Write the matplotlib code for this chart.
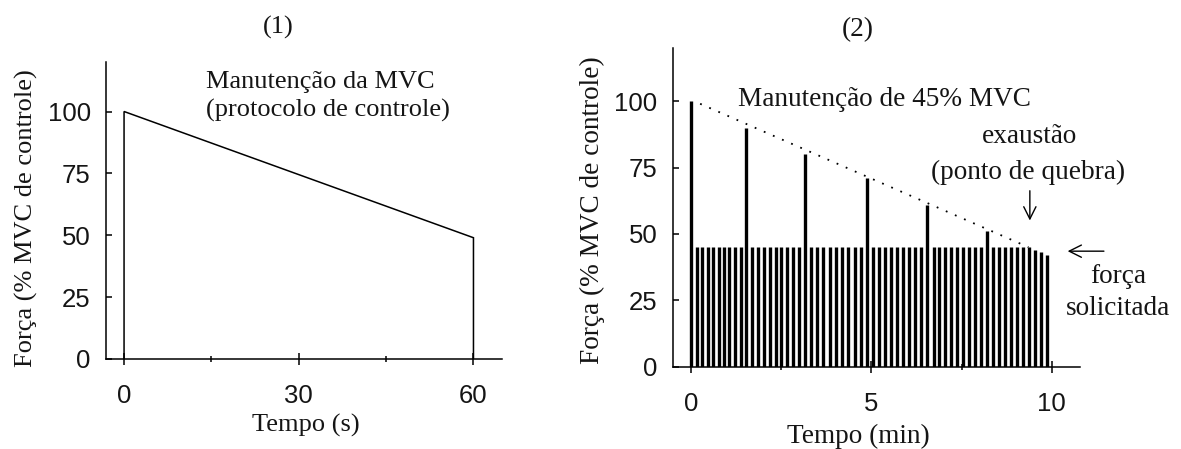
import matplotlib
matplotlib.use("Agg")
import matplotlib.pyplot as plt
from matplotlib.ticker import FixedLocator

# ---------------- data ----------------
# Panel 1: sustained MVC (control protocol)
p1_time = [0, 0, 60, 60]          # s
p1_force = [0, 100, 49, 0]        # % MVC

# Panel 2: intermittent contractions at 45% MVC with periodic MVCs
p2_time = [0.00, 0.15, 0.30, 0.46, 0.61, 0.76, 0.91, 1.06, 1.22, 1.37,
           1.52, 1.68, 1.85, 2.01, 2.18, 2.34, 2.50, 2.67, 2.83, 3.00,
           3.16, 3.33, 3.50, 3.67, 3.84, 4.02, 4.19, 4.36, 4.53, 4.70,
           4.87, 5.04, 5.21, 5.37, 5.54, 5.71, 5.88, 6.05, 6.21, 6.38,
           6.55, 6.72, 6.88, 7.05, 7.21, 7.38, 7.54, 7.71, 7.87, 8.04,
           8.20, 8.37, 8.53, 8.70, 8.86, 9.03, 9.20, 9.36, 9.53, 9.70,
           9.86]
p2_force = [100, 45, 45, 45, 45, 45, 45, 45, 45, 45,
            90, 45, 45, 45, 45, 45, 45, 45, 45, 45,
            80, 45, 45, 45, 45, 45, 45, 45, 45, 45,
            71, 45, 45, 45, 45, 45, 45, 45, 45, 45,
            61, 45, 45, 45, 45, 45, 45, 45, 45, 45,
            51, 45, 45, 45, 45, 45, 45, 45, 44, 43,
            42]
mvc_trend_time = [0.25, 9.35]
mvc_trend_force = [99, 45]

p1_xticks = [0, 30, 60]
p1_xminor = [15, 45]
p2_xticks = [0, 5, 10]
p2_xminor = [2.5, 7.5]
yticks = [0, 25, 50, 75, 100]

SERIF = "Liberation Serif"
SANS = "Liberation Sans"
TXT = "#151515"

fig = plt.figure(figsize=(11.81, 4.49), dpi=100)

ax1 = fig.add_axes([106/1181, 1-359/449, (502-106)/1181, (359-62)/449])
ax2 = fig.add_axes([672.7/1181, 1-366.7/449, (1080-672.7)/1181, (366.7-48)/449])


def style(ax, xt, xm, xlim, xlabel, fs):
    for s in ("top", "right"):
        ax.spines[s].set_visible(False)
    for s in ("left", "bottom"):
        ax.spines[s].set_linewidth(1.1)
    ax.set_ylim(0, 120)
    ax.set_xlim(*xlim)
    ax.set_yticks(yticks)
    ax.set_xticks(xt)
    ax.xaxis.set_minor_locator(FixedLocator(xm))
    ax.tick_params(axis="y", direction="in", length=4, width=1.1, pad=11,
                   labelsize=18.5)
    ax.tick_params(axis="x", which="major", direction="inout", length=8,
                   width=1.1, pad=14, labelsize=18.5)
    ax.tick_params(axis="x", which="minor", direction="inout", length=5,
                   width=1.1)
    for lab in ax.get_xticklabels() + ax.get_yticklabels():
        lab.set_fontfamily(SANS)
        lab.set_color(TXT)
    ax.set_xlabel(xlabel, fontsize=fs, family=SERIF, color=TXT)
    ax.set_ylabel("Força (% MVC de controle)", fontsize=fs, family=SERIF,
                  color=TXT)


# ---------- panel 1 ----------
ax1.plot(p1_time, p1_force, color="black", lw=1.1, solid_joinstyle="miter")
style(ax1, p1_xticks, p1_xminor, (-3.1, 64.9), "Tempo (s)", 19)
ax1.yaxis.set_label_coords(-0.172, 0.475)
ax1.xaxis.set_label_coords(0.505, -0.185)
ax1.text(26.5, 134, "(1)", fontsize=19, family=SERIF, color=TXT,
         ha="center", va="center", clip_on=False)
ax1.text(14.0, 112, "Manutenção da MVC", fontsize=19, family=SERIF,
         color=TXT, ha="left", va="center")
ax1.text(14.0, 100.5, "(protocolo de controle)", fontsize=19, family=SERIF,
         color=TXT, ha="left", va="center")

# ---------- panel 2 ----------
ax2.vlines(p2_time, 0, p2_force, colors="black", lw=2.4)
ax2.plot(mvc_trend_time, mvc_trend_force, color="black", lw=1.3,
         linestyle=(0, (1, 4.5)))
style(ax2, p2_xticks, p2_xminor, (-0.51, 10.78), "Tempo (min)", 19.6)
ax2.yaxis.set_label_coords(-0.165, 0.49)
ax2.xaxis.set_label_coords(0.455, -0.178)
ax2.text(4.63, 127, "(2)", fontsize=19.6, family=SERIF, color=TXT,
         ha="center", va="center", clip_on=False)
ax2.text(5.35, 100.5, "Manutenção de 45% MVC", fontsize=19.6, family=SERIF,
         color=TXT, ha="center", va="center")
ax2.text(9.39, 86.5, "exaustão", fontsize=19.6, family=SERIF, color=TXT,
         ha="center", va="center", clip_on=False)
ax2.text(9.34, 73.3, "(ponto de quebra)", fontsize=19.6, family=SERIF,
         color=TXT, ha="center", va="center", clip_on=False)
ax2.annotate("", xy=(9.39, 54), xytext=(9.39, 67.3),
             arrowprops=dict(arrowstyle="->", color="black", lw=1.0,
                             mutation_scale=22), annotation_clip=False)
ax2.annotate("", xy=(10.36, 43.5), xytext=(11.52, 43.5),
             arrowprops=dict(arrowstyle="->", color="black", lw=1.0,
                             mutation_scale=22), annotation_clip=False)
ax2.text(11.83, 33.8, "força", fontsize=19.6, family=SERIF, color=TXT,
         ha="center", va="center", clip_on=False)
ax2.text(11.83, 22.1, "solicitada", fontsize=19.6, family=SERIF, color=TXT,
         ha="center", va="center", clip_on=False)

fig.savefig("out.png", dpi=100)
